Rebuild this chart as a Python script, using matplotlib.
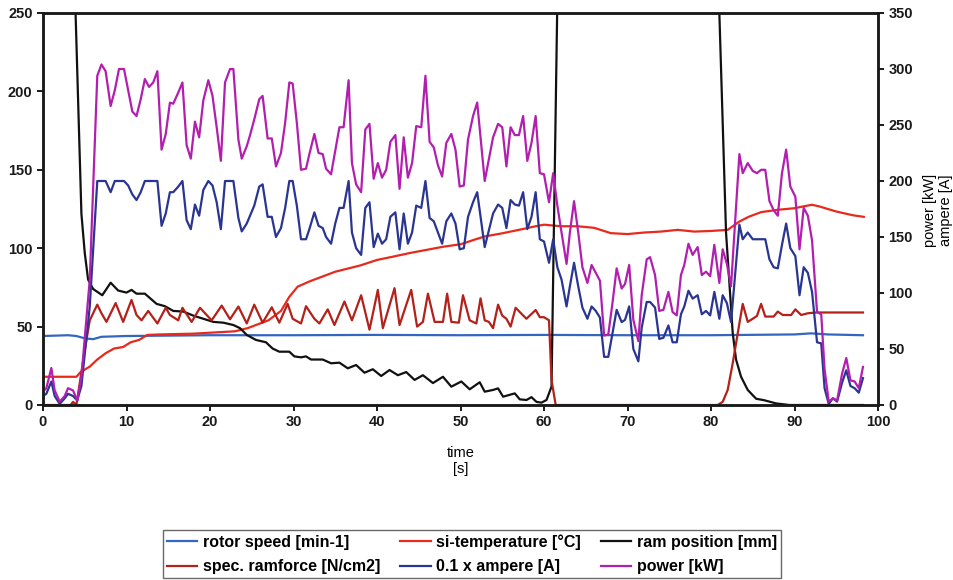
import matplotlib
matplotlib.use("Agg")
import matplotlib.pyplot as plt
import numpy as np

plt.rcParams['font.family'] = ['Liberation Sans', 'DejaVu Sans']
plt.rcParams['font.weight'] = 'bold'

# ---------------- rotor speed [min-1] (left axis) ----------------
t_rotor = [0, 3, 4, 5, 6, 7, 10, 20, 30, 40, 50, 60, 70, 80, 90, 92, 94, 98.2]
rotor = [44, 44.5, 44, 42.5, 42, 43.5, 44, 44.5, 44.5, 44.7, 44.5, 44.7, 44.5, 44.5, 45, 45.7, 45, 44.5]

# ---------------- si-temperature [°C] (left axis) ----------------
t_temp = [0, 4, 4.5, 5.6, 6.5, 7.5, 8.5, 9.6, 10.5, 11.5, 12.5, 14, 18, 23, 24.5, 25.5,
          27, 28.5, 29.5, 30.5, 32, 33.5, 35, 36.5, 38, 40, 42, 44, 46, 48, 50, 52,
          52.9, 55, 57, 59, 60, 62, 64, 66, 68, 70, 72, 74, 76, 78, 80, 82, 83.4, 84.5,
          86, 88, 90, 91, 92.1, 93, 95, 97, 98.3]
temp = [18, 18, 21, 24.5, 29, 33, 36, 37, 40, 41.5, 44.7, 45, 45.5, 47, 49, 51,
        54, 60, 69, 75.5, 79, 82, 85, 87, 89, 92.5, 94.7, 97, 99, 101, 102.5, 106,
        107.5, 109.5, 111.7, 114, 115, 114, 114, 113, 109.6, 109, 110, 110.6, 111.7, 110.6, 111, 111.7, 117, 120,
        123, 124.5, 125.5, 126.6, 127.7, 126.6, 123.4, 121, 120]

# ---------------- ram position [mm] (left axis) ----------------
t_ram = [0, 3.1, 3.9, 4.6, 5.0, 5.4, 6.0, 7.1, 8.1, 9.0, 10.0, 10.6, 11.2, 12.2, 13.6, 14.6,
         15.6, 16.8, 18.0, 19.2, 20.4, 21.6, 22.8, 23.6, 24.4, 25.5, 26.7, 27.5, 28.3, 29.5,
         30.1, 30.9, 31.5, 32.1, 33.5, 34.5, 35.5, 36.5, 37.5, 38.5, 39.5, 40.5, 41.5, 42.5,
         43.5, 44.5, 45.5, 46.7, 47.9, 48.9, 50.1, 51.1, 52.3, 52.9, 53.9, 54.5, 55.1, 56.5,
         57.1, 57.9, 58.5, 59.1, 59.7, 60.3, 60.9, 62.0, 80.1, 81.0, 81.8, 82.6, 83.0, 83.6,
         84.4, 85.4, 86.4, 87.8, 89.4, 98.2]
ram = [400, 400, 250, 122, 97, 80, 74, 70, 78, 73, 71.7, 73.4, 71, 71, 64.5, 63,
       60, 59.6, 57, 55, 53, 52.5, 51, 49, 44.7, 41.5, 40, 36, 34, 34,
       31, 30.4, 31, 29, 29, 26.6, 27, 23.4, 25.5, 20.6, 22.8, 18.5, 22.3, 19,
       21, 16, 19, 14, 18, 11.7, 15, 10, 14.5, 8.5, 9.6, 10.6, 5.3, 7.4,
       3.6, 3.2, 5, 2, 1.5, 3.2, 11.7, 400, 400, 250, 110, 46, 29, 18,
       9.6, 4, 3, 1, 0, 0]

# ---------------- spec. ramforce [N/cm2] (left axis) ----------------
t_force = [0, 3.3, 3.6, 4.0, 5.0, 5.6, 6.5, 7.0, 7.6, 8.7, 9.6, 10.6, 11.2, 11.8, 12.6, 13.7,
           14.7, 15.2, 16.2, 16.7, 17.8, 18.8, 19.6, 20.2, 21.4, 22.4, 23.4, 24.4, 25.3, 26.3,
           27.4, 28.3, 29.3, 29.9, 30.9, 31.5, 32.5, 33.1, 34.1, 34.9, 36.1, 37.0, 38.1, 39.1,
           40.1, 40.7, 42.1, 42.7, 44.1, 44.8, 45.5, 46.1, 46.9, 47.9, 48.4, 48.9, 49.8, 50.3,
           51.1, 51.9, 52.4, 52.9, 53.4, 53.9, 54.5, 55.0, 55.5, 56.0, 56.6, 57.9, 59.0, 59.5,
           60.0, 60.6, 60.9, 61.4, 80.8, 81.4, 82.0, 82.6, 83.2, 83.8, 84.4, 85.0, 85.5, 86.0,
           86.5, 87.5, 88.0, 88.6, 89.6, 90.1, 90.8, 91.6, 92.6, 98.2]
force = [0, 0, 2, 0, 35, 54, 64, 58.5, 53, 65, 53, 67, 57.4, 54, 60, 52,
         62, 57.4, 54, 62, 53, 62, 57.4, 54, 63.4, 54.7, 62.8, 52, 64, 52.5,
         62.3, 52.5, 64.5, 55, 52, 63, 55, 52, 61, 51, 66, 54, 70, 48,
         73.4, 49, 74.5, 51, 73.4, 50, 53, 71, 53, 53, 71, 53, 52.5, 70,
         54, 52, 68, 54, 53, 49, 64, 57, 55, 50, 62, 55, 60.6, 56,
         56, 54, 16, 0, 0, 2, 9.6, 26.6, 45.7, 64.5, 53, 55, 56.8, 64.5,
         56.4, 56.4, 59.6, 57.4, 57.4, 61, 57.4, 58.5, 59, 59]

# ---------------- 0.1 x ampere [A] and power [kW] (right axis) ----------------
t_el = [0, 0.4, 1.0, 1.4, 2.0, 2.6, 3.0, 3.6, 4.1, 4.6, 5.6, 6.5, 7.0, 7.5, 8.1, 8.6,
        9.1, 9.7, 10.2, 10.7, 11.2, 11.7, 12.2, 12.7, 13.2, 13.7, 14.2, 14.7, 15.2, 15.6,
        16.2, 16.7, 17.2, 17.7, 18.2, 18.7, 19.2, 19.8, 20.3, 20.8, 21.3, 21.8, 22.4, 22.8,
        23.4, 23.8, 24.4, 24.8, 25.3, 25.9, 26.3, 26.9, 27.4, 27.9, 28.5, 29.0, 29.5, 29.9,
        30.4, 30.9, 31.5, 31.9, 32.5, 33.0, 33.5, 33.9, 34.5, 35.0, 35.5, 36.0, 36.6, 37.0,
        37.5, 38.1, 38.6, 39.1, 39.6, 40.1, 40.6, 41.1, 41.6, 42.2, 42.7, 43.2, 43.7, 44.2,
        44.7, 45.3, 45.8, 46.3, 46.8, 47.3, 47.8, 48.3, 48.9, 49.4, 49.9, 50.4, 50.9, 51.5,
        52.0, 52.9, 53.9, 54.5, 55.0, 55.5, 56.0, 56.5, 57.0, 57.5, 58.0, 58.5, 59.0, 59.5,
        60.0, 60.6, 61.1, 61.6, 62.1, 62.7, 63.1, 63.6, 64.1, 64.6, 65.2, 65.7, 66.2, 66.7,
        67.2, 67.7, 68.2, 68.7, 69.3, 69.7, 70.2, 70.7, 71.3, 71.7, 72.3, 72.7, 73.3, 73.8,
        74.3, 74.9, 75.4, 75.9, 76.4, 76.8, 77.3, 77.8, 78.4, 78.9, 79.4, 79.9, 80.4, 81.0,
        81.4, 81.9, 82.4, 83.4, 83.8, 84.4, 85.0, 85.5, 86.0, 86.5, 87.0, 87.5, 88.0, 88.5,
        89.0, 89.5, 90.1, 90.6, 91.1, 91.6, 92.1, 92.7, 93.2, 93.6, 94.1, 94.6, 95.1, 95.7,
        96.2, 96.7, 97.2, 97.7, 98.2]

power = [12, 15, 33, 13, 3, 8, 15, 13, 4, 25, 112, 294, 304, 298, 267, 281,
         300, 300, 281, 262, 258, 273, 291, 284, 288, 298, 228, 242, 270, 269,
         279, 288, 232, 220, 253, 239, 272, 290, 276, 248, 218, 288, 300, 300,
         237, 220, 231, 241, 255, 273, 276, 238, 238, 213, 225, 252, 288, 287,
         252, 210, 211, 224, 242, 225, 224, 211, 206, 227, 248, 248, 290, 216,
         197, 190, 246, 251, 202, 216, 203, 210, 235, 241, 193, 239, 203, 216,
         249, 248, 294, 235, 230, 214, 204, 234, 242, 228, 195, 196, 237, 258,
         270, 200, 239, 251, 248, 213, 248, 241, 241, 258, 218, 234, 258, 207,
         206, 181, 207, 178, 154, 126, 154, 182, 154, 123, 109, 125, 118, 111,
         62, 63, 91, 122, 104, 108, 125, 76, 57, 98, 130, 132, 116, 84,
         85, 101, 83, 80, 116, 125, 144, 134, 141, 116, 119, 115, 143, 109,
         139, 126, 106, 224, 207, 216, 209, 207, 210, 210, 182, 174, 169, 207,
         228, 195, 186, 139, 176, 169, 147, 83, 81, 32, 3, 6, 4, 28,
         42, 22, 21, 15, 34]

ampere = [8, 10, 21, 8, 1, 6, 10, 8, 4, 17, 88, 200, 200, 200, 190, 200,
          200, 200, 196, 188, 183, 190, 200, 200, 200, 200, 160, 171, 190, 190,
          195, 200, 165, 157, 179, 169, 192, 200, 196, 181, 157, 200, 200, 200,
          167, 155, 162, 169, 178, 195, 197, 168, 168, 150, 158, 176, 200, 200,
          178, 148, 148, 157, 172, 160, 158, 150, 144, 162, 176, 176, 200, 154,
          140, 134, 176, 181, 141, 153, 144, 148, 168, 172, 139, 171, 144, 154,
          178, 176, 200, 167, 164, 154, 144, 164, 171, 162, 139, 140, 168, 181,
          190, 141, 171, 179, 176, 158, 183, 179, 178, 190, 157, 168, 190, 148,
          146, 127, 148, 123, 112, 88, 106, 127, 106, 87, 77, 88, 84, 78,
          43, 43, 64, 85, 74, 76, 88, 50, 39, 69, 92, 92, 87, 59,
          60, 71, 56, 56, 81, 88, 102, 95, 98, 81, 84, 80, 101, 77,
          98, 91, 74, 161, 148, 154, 148, 148, 148, 148, 130, 123, 122, 143,
          162, 140, 133, 98, 123, 118, 101, 56, 55, 15, 1, 6, 3, 20,
          31, 17, 15, 11, 24]

# ---------------- figure ----------------
fig = plt.figure(figsize=(9.54, 5.8), dpi=100)
ax = fig.add_axes([43/954, 1 - 405/580, (878 - 43)/954, (405 - 13)/580])
ax2 = ax.twinx()

lw = 1.6
l_rotor, = ax.plot(t_rotor, rotor, color="#3366c0", lw=lw, label="rotor speed [min-1]")
l_temp, = ax.plot(t_temp, temp, color="#e8291c", lw=lw, label="si-temperature [°C]")
l_ram, = ax.plot(t_ram, ram, color="#111111", lw=lw, label="ram position [mm]")
l_force, = ax.plot(t_force, force, color="#b3211a", lw=lw, label="spec. ramforce [N/cm2]")
l_amp, = ax2.plot(t_el, ampere, color="#2a3591", lw=lw, label="0.1 x ampere [A]")
l_pow, = ax2.plot(t_el, power, color="#b21fae", lw=lw, label="power [kW]")

ax.set_xlim(0, 100)
ax.set_ylim(0, 250)
ax2.set_ylim(0, 350)
ax.set_xticks(np.arange(0, 101, 10))
ax.set_yticks(np.arange(0, 251, 50))
ax2.set_yticks(np.arange(0, 351, 50))

for a in (ax, ax2):
    for s in a.spines.values():
        s.set_linewidth(1.8)
        s.set_color("#1a1a1a")
    a.tick_params(direction="out", length=4, width=1.4, labelsize=10.5, colors="#1a1a1a")

ax.set_xlabel("time\n[s]", fontsize=10.5, linespacing=1.15, labelpad=12)
ax2.set_ylabel("power [kW]\nampere [A]", fontsize=10.5, rotation=90,
               linespacing=1.2, ha="center", va="center")
ax2.yaxis.set_label_coords(1.072, 0.497)

# legend reads row by row: rotor / si-temp / ram, then ramforce / ampere / power
handles = [l_rotor, l_force, l_temp, l_amp, l_ram, l_pow]
leg = fig.legend(handles, [h.get_label() for h in handles], ncol=3,
                 loc="upper left", bbox_to_anchor=(163/954, 1 - 530/580),
                 fontsize=11.5, frameon=True, fancybox=False, edgecolor="#444444",
                 handlelength=1.9, handletextpad=0.35, columnspacing=1.25,
                 labelspacing=0.62, borderpad=0.25, borderaxespad=0)
leg.get_frame().set_linewidth(1.0)

fig.savefig("out.png", dpi=100)
